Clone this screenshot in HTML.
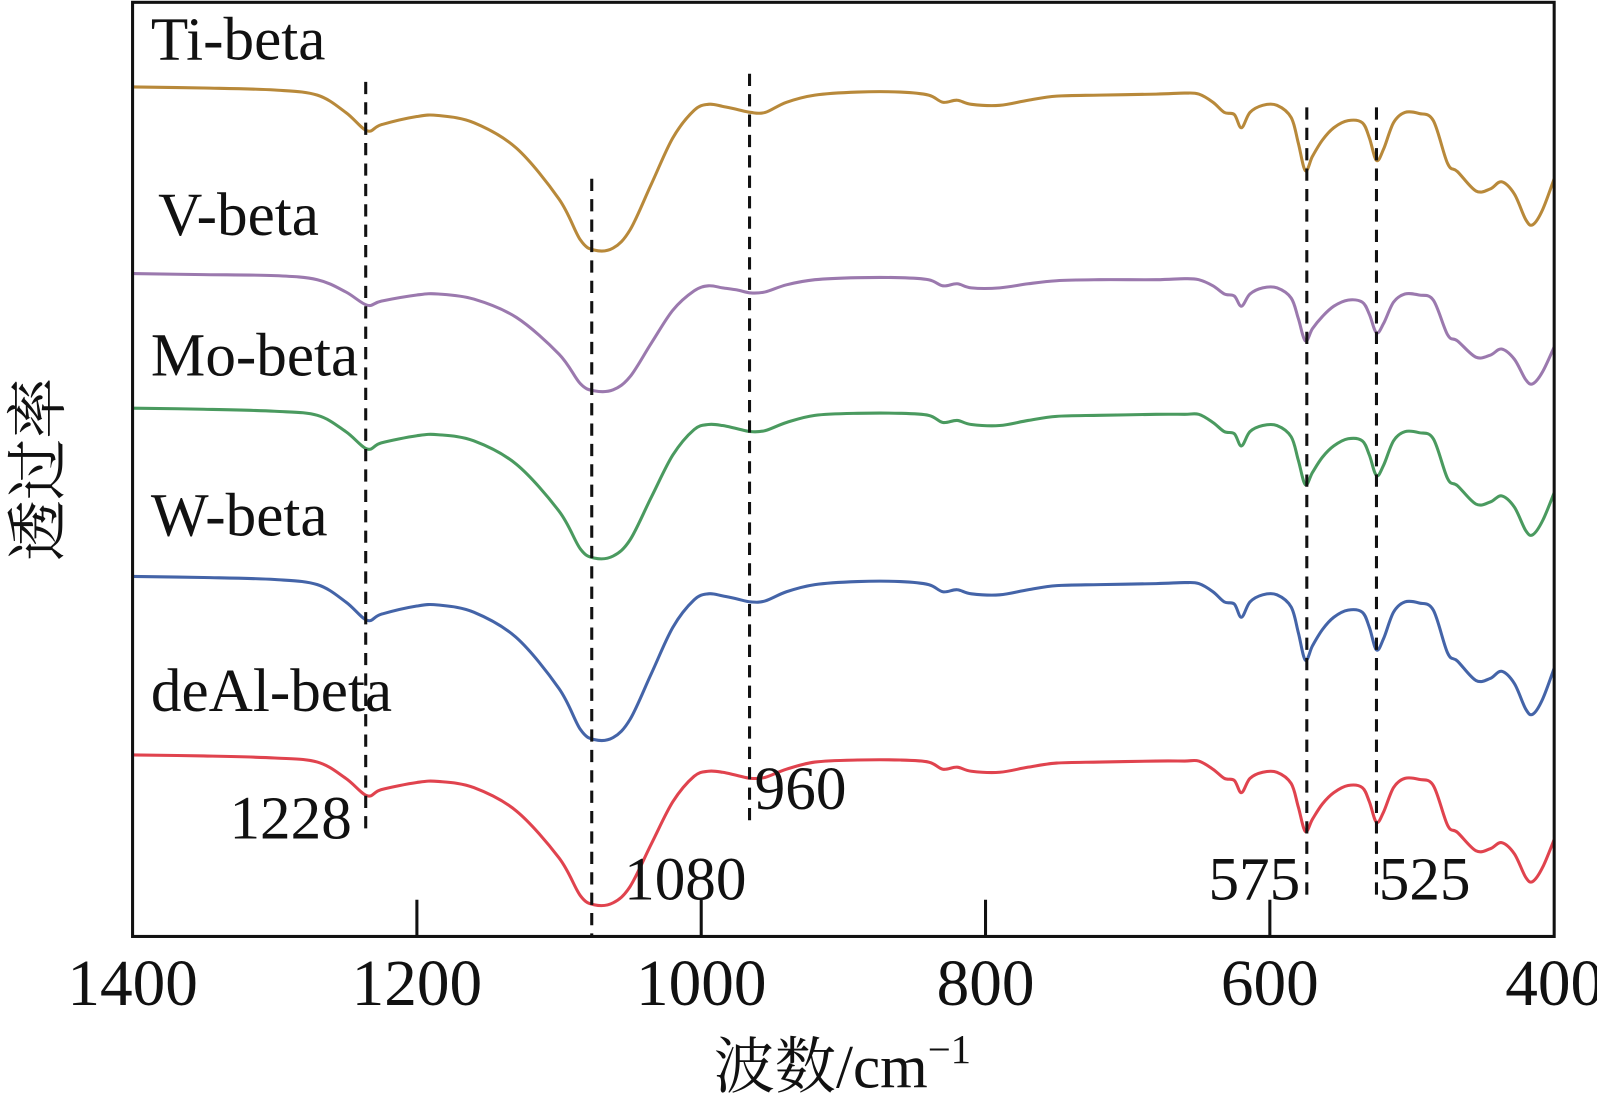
<!DOCTYPE html>
<html><head><meta charset="utf-8"><style>
html,body{margin:0;padding:0;background:#fff}
svg{display:block}
text{font-family:"Liberation Serif","Noto Serif CJK SC",serif;fill:#111}
</style></head><body>
<svg id="chart" width="1597" height="1105" viewBox="0 0 1566 1083" xmlns="http://www.w3.org/2000/svg">
<g id="plot"></g>
</svg>
<script>
const wavenumbers=[1400,1350,1300,1270,1250,1235,1225,1200,1185,1160,1130,1100,1085,1075,1062,1050,1035,1020,1005,995,985,975,965,955,940,920,890,860,840,830,820,810,790,770,750,720,680,660,650,640,632,625,620,614,605,595,585,580,575,570,563,555,545,535,530,525,520,513,505,495,485,475,468,455,445,437,428,420,415,408,400];
const tiBeta=[915,914,912,907,890,872,878,886,887,880,855,805,765,755,757,775,820,865,892,898,896,893,890,890,900,907,910,910,907,900,902,898,897,902,906,907,908,909,908,900,890,888,875,890,897,897,885,860,833,847,863,875,882,880,865,843,854,880,890,889,882,840,832,813,815,822,810,785,780,795,825];
const vBeta=[732,731,730,726,714,701,705,711,712,707,689,653,624,617,618,631,664,696,715,720,718,716,713,714,721,726,728,728,726,720,722,718,718,722,725,726,726,727,726,720,712,710,700,712,718,718,708,688,666,678,690,700,706,704,692,674,683,704,712,711,706,672,666,650,652,658,648,628,624,636,660];
const moBeta=[600,599,597,593,577,560,566,573,574,568,545,499,462,453,455,471,513,554,579,584,583,580,577,578,586,593,595,595,593,586,588,584,583,588,592,593,594,594,594,586,577,575,563,577,583,583,572,549,525,537,552,563,570,568,554,534,544,568,577,576,570,531,524,506,508,514,503,480,476,490,517];
const wBeta=[435,434,432,427,410,392,398,406,407,400,375,325,285,275,277,295,340,385,412,418,416,413,410,411,420,427,430,430,427,420,422,418,417,422,426,427,428,429,428,420,410,408,395,410,417,417,405,380,353,367,383,395,402,400,385,363,374,400,410,409,402,360,352,333,335,342,330,305,300,315,345];
const deAlBeta=[260,259,257,253,237,220,226,233,234,228,205,159,122,113,115,131,173,214,239,244,243,240,237,238,246,253,255,255,253,246,248,244,243,248,252,253,254,254,254,246,237,235,223,237,243,243,232,209,185,197,212,223,230,228,214,194,204,228,237,236,230,191,184,166,168,174,163,140,136,150,177];
const xTicks=[1400,1200,1000,800,600,400];
const peakPositions=[1236,1077,966,574,525];
const peakLabels=["1228","1080","960","575","525"];

const NS="http://www.w3.org/2000/svg";
const g=document.getElementById('plot');
const L=130,R=1524,T=2,B=918;
function xS(w){return L+(1400-w)*(R-L)/1000;}
function yS(v){return 1000-v;}
function mk(tag,attrs,parent){const e=document.createElementNS(NS,tag);for(const k in attrs)e.setAttribute(k,attrs[k]);(parent||g).appendChild(e);return e;}
function smooth(pts){let d=`M${pts[0][0]},${pts[0][1]}`;for(let i=0;i<pts.length-1;i++){const p0=pts[i-1]||pts[i],p1=pts[i],p2=pts[i+1],p3=pts[i+2]||p2;const c1=[p1[0]+(p2[0]-p0[0])/6,p1[1]+(p2[1]-p0[1])/6],c2=[p2[0]-(p3[0]-p1[0])/6,p2[1]-(p3[1]-p1[1])/6];d+=` C${c1[0].toFixed(1)},${c1[1].toFixed(1)} ${c2[0].toFixed(1)},${c2[1].toFixed(1)} ${p2[0].toFixed(1)},${p2[1].toFixed(1)}`;}return d;}

const series=[
 {vals:tiBeta,color:'#b8893a',name:'ti-beta-line',label:'Ti-beta',lx:148,ly:58,ln:'ti-beta-label'},
 {vals:vBeta,color:'#9b79ae',name:'v-beta-line',label:'V-beta',lx:155,ly:230,ln:'v-beta-label'},
 {vals:moBeta,color:'#4a9a5f',name:'mo-beta-line',label:'Mo-beta',lx:148,ly:368,ln:'mo-beta-label'},
 {vals:wBeta,color:'#4464a8',name:'w-beta-line',label:'W-beta',lx:148,ly:525,ln:'w-beta-label'},
 {vals:deAlBeta,color:'#e0434e',name:'deal-beta-line',label:'deAl-beta',lx:148,ly:697,ln:'deal-beta-label'}
];
series.forEach(s=>{
 const pts=wavenumbers.map((w,i)=>[xS(w),yS(s.vals[i])]);
 const p=mk('path',{d:smooth(pts),fill:'none',stroke:s.color,'stroke-width':3,'stroke-linejoin':'round'});
 
 
 const t=mk('text',{x:s.lx,y:s.ly,'font-size':60});
 t.textContent=s.label;
 
 
});

const dashY=[[80,820],[175,918],[72,808],[105,880],[105,880]];
const labPos=[[225,822],[612,882],[740,793],[1185,882],[1352,882]];
peakPositions.forEach((w,i)=>{
 const l=mk('line',{x1:xS(w),x2:xS(w),y1:dashY[i][0],y2:dashY[i][1],stroke:'#111','stroke-width':3,'stroke-dasharray':'12 8'});
 
 
 const t=mk('text',{x:labPos[i][0],y:labPos[i][1],'font-size':60});
 t.textContent=peakLabels[i];
 
 
});

const fr=mk('rect',{x:L,y:T,width:R-L,height:B-T,fill:'none',stroke:'#111','stroke-width':3});



xTicks.forEach(v=>{
 const x=xS(v);
 if(v!==1400&&v!==400){const tk=mk('line',{x1:x,x2:x,y1:B,y2:B-36,stroke:'#111','stroke-width':3});
 
 }
 const t=mk('text',{x:x,y:985,'font-size':64,'text-anchor':'middle'});
 t.textContent=v;
 
 
});
const xt=mk('text',{x:826,y:1066,'font-size':60,'text-anchor':'middle'});
xt.innerHTML='波数/cm<tspan dy="-24" font-size="40">−1</tspan>';


const yt=mk('text',{x:0,y:0,'font-size':60,'text-anchor':'middle',transform:'translate(58,460) rotate(-90)'});
yt.textContent='透过率';


</script>
</body></html>
